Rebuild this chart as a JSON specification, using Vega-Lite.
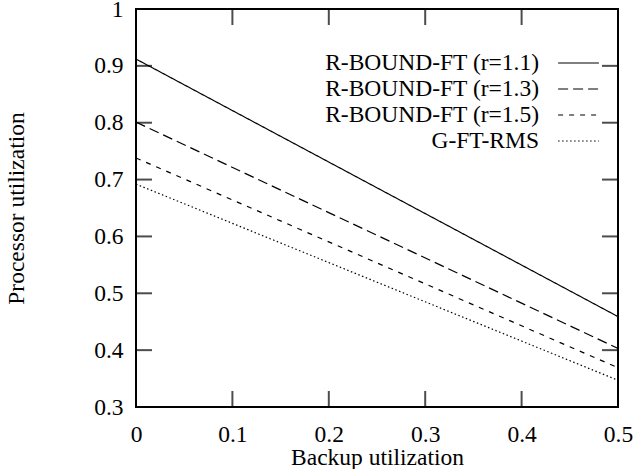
{
  "$schema": "https://vega.github.io/schema/vega-lite/v6.json",
  "width": 482,
  "height": 398,
  "autosize": "none",
  "padding": {"left": 136, "top": 9, "right": 16, "bottom": 62},
  "background": "white",
  "config": {
    "view": {"stroke": "black", "strokeWidth": 2},
    "font": "Liberation Serif",
    "axis": {
      "grid": false,
      "domain": false,
      "ticks": false,
      "labelFont": "Liberation Serif",
      "labelFontSize": 23.5,
      "labelColor": "black",
      "labelFlush": false,
      "titleFont": "Liberation Serif",
      "titleFontSize": 23.5,
      "titleFontWeight": "normal",
      "titleColor": "black"
    }
  },
  "datasets": {
    "lines": [
      {"b": 0, "u": 0.912, "s": "R-BOUND-FT (r=1.1)"},
      {"b": 0.5, "u": 0.459, "s": "R-BOUND-FT (r=1.1)"},
      {"b": 0, "u": 0.801, "s": "R-BOUND-FT (r=1.3)"},
      {"b": 0.5, "u": 0.403, "s": "R-BOUND-FT (r=1.3)"},
      {"b": 0, "u": 0.738, "s": "R-BOUND-FT (r=1.5)"},
      {"b": 0.5, "u": 0.369, "s": "R-BOUND-FT (r=1.5)"},
      {"b": 0, "u": 0.692, "s": "G-FT-RMS"},
      {"b": 0.5, "u": 0.347, "s": "G-FT-RMS"}
    ],
    "xticks": [{"v": 0.1}, {"v": 0.2}, {"v": 0.3}, {"v": 0.4}],
    "yticks": [{"v": 0.4}, {"v": 0.5}, {"v": 0.6}, {"v": 0.7}, {"v": 0.8}, {"v": 0.9}]
  },
  "layer": [
    {
      "data": {"name": "lines"},
      "mark": {"type": "line", "color": "black", "strokeWidth": 1.2, "clip": true},
      "encoding": {
        "x": {"field": "b", "type": "quantitative", "title": "Backup utilization",
          "scale": {"domain": [0, 0.5], "nice": false, "zero": false},
          "axis": {"orient": "bottom", "values": [0, 0.1, 0.2, 0.3, 0.4, 0.5], "format": "~g",
            "labelPadding": 15, "titlePadding": 0}},
        "y": {"field": "u", "type": "quantitative", "title": "Processor utilization",
          "scale": {"domain": [0.3, 1], "nice": false, "zero": false},
          "axis": {"orient": "left", "values": [0.3, 0.4, 0.5, 0.6, 0.7, 0.8, 0.9, 1], "format": "~g",
            "labelPadding": 13, "titlePadding": 65}},
        "strokeDash": {"field": "s", "type": "nominal",
          "scale": {"domain": ["R-BOUND-FT (r=1.1)", "R-BOUND-FT (r=1.3)", "R-BOUND-FT (r=1.5)", "G-FT-RMS"],
            "range": [[1, 0], [10, 5], [5, 6], [1.5, 2.5]]},
          "legend": {
            "title": null,
            "orient": "none",
            "legendX": 429.5,
            "legendY": 41,
            "symbolType": "M-1.7,0H1.7",
            "symbolSize": 576,
            "symbolStrokeColor": "black",
            "symbolStrokeWidth": 1.2,
            "labelAlign": "right",
            "labelOffset": -52.5,
            "labelFont": "Liberation Serif",
            "labelFontSize": 23.5,
            "labelColor": "black",
            "rowPadding": 1,
            "labelLimit": 400
          }}
      }
    },
    {
      "data": {"name": "xticks"},
      "mark": {"type": "tick", "orient": "vertical", "color": "black", "size": 32, "thickness": 2, "clip": true},
      "encoding": {
        "x": {"field": "v", "type": "quantitative", "title": "Backup utilization"},
        "y": {"datum": 0.3, "type": "quantitative", "title": "Processor utilization"}
      }
    },
    {
      "data": {"name": "xticks"},
      "mark": {"type": "tick", "orient": "vertical", "color": "black", "size": 32, "thickness": 2, "clip": true},
      "encoding": {
        "x": {"field": "v", "type": "quantitative", "title": "Backup utilization"},
        "y": {"datum": 1, "type": "quantitative", "title": "Processor utilization"}
      }
    },
    {
      "data": {"name": "yticks"},
      "mark": {"type": "tick", "orient": "horizontal", "color": "black", "size": 32, "thickness": 2, "clip": true},
      "encoding": {
        "y": {"field": "v", "type": "quantitative", "title": "Processor utilization"},
        "x": {"datum": 0, "type": "quantitative", "title": "Backup utilization"}
      }
    },
    {
      "data": {"name": "yticks"},
      "mark": {"type": "tick", "orient": "horizontal", "color": "black", "size": 32, "thickness": 2, "clip": true},
      "encoding": {
        "y": {"field": "v", "type": "quantitative", "title": "Processor utilization"},
        "x": {"datum": 0.5, "type": "quantitative", "title": "Backup utilization"}
      }
    }
  ]
}
